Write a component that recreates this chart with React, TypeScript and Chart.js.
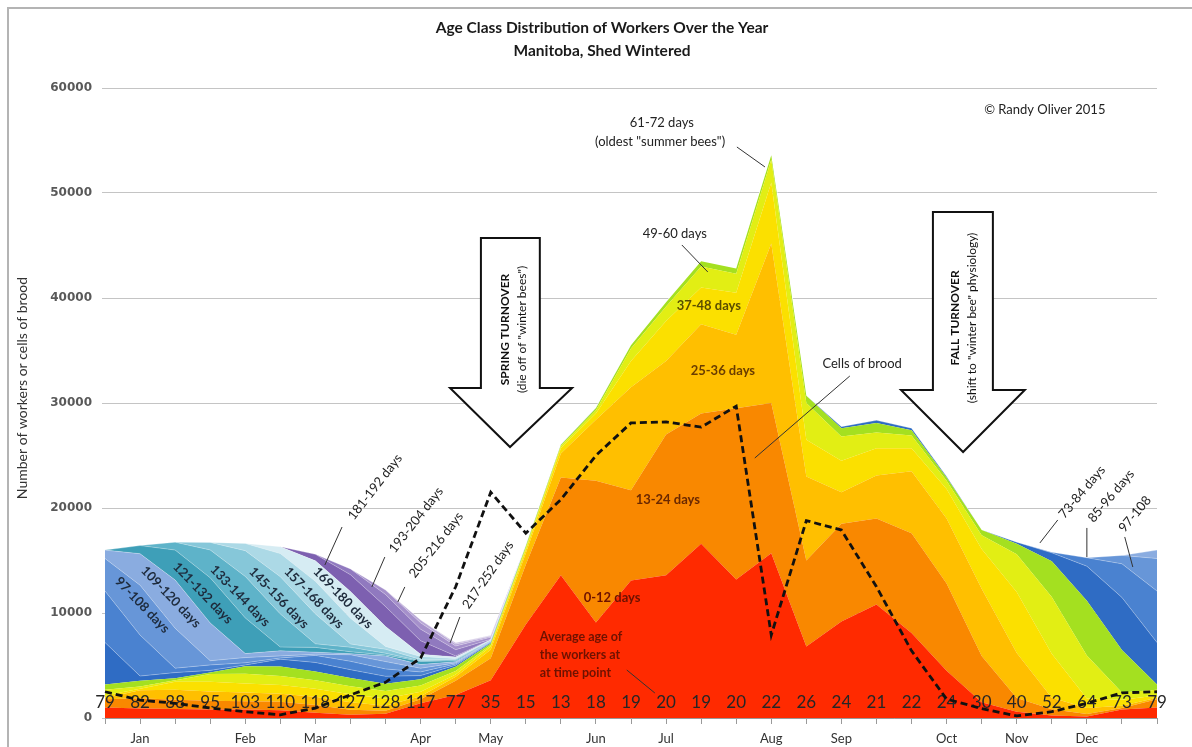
import React, { useEffect, useRef } from "react";
import { Chart, registerables } from "chart.js";

Chart.register(...registerables);

// ---------- categories (one point every 12 days) ----------
const dayOfYear = ["0","12","24","36","48","60","72","84","96","108","120","132","144","156","168","180","192","204","216","228","240","252","264","276","288","300","312","324","336","348","360"];
const monthTicks = ["","Jan","","","Feb","","Mar","","","Apr","","May","","","Jun","","Jul","","","Aug","","Sep","","","Oct","","Nov","","Dec","",""];

// ---------- average age of the workers at each time point ----------
const avgAge = [79,82,88,95,103,110,118,127,128,117,77,35,15,13,18,19,20,19,20,22,26,24,21,22,24,30,40,52,64,73,79];

// ---------- cells of brood (dashed line) ----------
const broodCells = [2500,1700,1400,950,600,300,950,2200,3400,5700,12500,21500,17600,20800,25000,28100,28200,27700,29700,7900,18800,17900,12500,6400,1800,900,200,600,1400,2400,2500];

// ---------- number of workers per age class ----------
const days0to12   = [1000,900,850,800,800,750,500,300,400,1400,2200,3600,8900,13600,9100,13100,13600,16600,13200,15700,6800,9200,10800,8100,4500,1500,600,250,150,800,1000];
const days13to24  = [780,980,890,840,790,790,740,490,290,390,1350,2100,5700,9300,13500,8600,13400,12400,16300,14300,8200,9300,8200,9500,8300,4400,1300,580,240,145,780];
const days25to36  = [140,770,960,880,830,780,780,720,470,270,370,800,1100,2300,5800,9800,7000,8500,7000,15200,8000,3000,4100,5900,6200,6400,4300,1100,570,230,140];
const days37to48  = [220,140,750,940,870,820,770,760,690,430,230,300,300,500,600,2500,3800,3500,4000,5800,3500,3000,2600,2200,2800,3800,5800,4200,900,560,220];
const days49to60  = [550,215,135,740,920,860,800,750,720,600,330,150,200,200,300,1200,1400,2000,1800,2200,3500,2300,1500,1200,800,1300,3600,5400,4100,700,550];
const days61to72  = [500,540,210,130,720,900,840,780,700,600,400,150,150,100,200,300,400,500,500,400,700,800,900,500,300,500,1000,3400,5200,4050,500];
const days73to84  = [4000,450,530,205,125,700,860,800,700,350,150,80,30,20,30,0,0,0,0,0,0,150,250,200,100,0,150,800,3300,5000,4000];
const days85to96  = [4900,3900,420,520,200,120,670,800,700,350,120,60,0,0,0,0,0,0,0,0,0,0,0,0,0,0,0,50,800,3200,4900];
const days97to108 = [3100,4750,3800,400,500,195,115,620,700,350,100,50,0,0,0,0,0,0,0,0,0,0,0,0,0,0,0,0,0,800,3100];
const days109to120 = [800,3000,4600,3600,380,480,190,110,540,350,100,40,0,0,0,0,0,0,0,0,0,0,0,0,0,0,0,0,0,0,800];
const days121to132 = [0,780,2850,4300,3400,360,460,180,95,300,100,30,0,0,0,0,0,0,0,0,0,0,0,0,0,0,0,0,0,0,0];
const days133to144 = [0,0,750,2650,3950,3150,340,430,160,70,100,30,0,0,0,0,0,0,0,0,0,0,0,0,0,0,0,0,0,0,0];
const days145to156 = [0,0,0,720,2450,3550,2850,310,380,120,40,20,0,0,0,0,0,0,0,0,0,0,0,0,0,0,0,0,0,0,0];
const days157to168 = [0,0,0,0,690,2200,3100,2450,270,280,70,10,0,0,0,0,0,0,0,0,0,0,0,0,0,0,0,0,0,0,0];
const days169to180 = [0,0,0,0,0,660,1950,2550,1900,200,150,10,0,0,0,0,0,0,0,0,0,0,0,0,0,0,0,0,0,0,0];
const days181to192 = [0,0,0,0,0,0,620,1600,1900,1300,100,30,0,0,0,0,0,0,0,0,0,0,0,0,0,0,0,0,0,0,0];
const days193to204 = [0,0,0,0,0,0,0,550,1150,1100,600,30,0,0,0,0,0,0,0,0,0,0,0,0,0,0,0,0,0,0,0];
const days205to216 = [0,0,0,0,0,0,0,0,420,600,350,200,0,0,0,0,0,0,0,0,0,0,0,0,0,0,0,0,0,0,0];
const days217to228 = [0,0,0,0,0,0,0,0,0,280,180,100,50,0,0,0,0,0,0,0,0,0,0,0,0,0,0,0,0,0,0];
const days229to240 = [0,0,0,0,0,0,0,0,0,0,120,40,0,0,0,0,0,0,0,0,0,0,0,0,0,0,0,0,0,0,0];
const days241to252 = [0,0,0,0,0,0,0,0,0,0,0,40,0,0,0,0,0,0,0,0,0,0,0,0,0,0,0,0,0,0,0];

const ageSeries = [days0to12, days13to24, days25to36, days37to48, days49to60, days61to72, days73to84, days85to96, days97to108, days109to120, days121to132, days133to144, days145to156, days157to168, days169to180, days181to192, days193to204, days205to216, days217to228, days229to240, days241to252];
const ageNames = ["0-12 days","13-24 days","25-36 days","37-48 days","49-60 days","61-72 days","73-84 days","85-96 days","97-108 days","109-120 days","121-132 days","133-144 days","145-156 days","157-168 days","169-180 days","181-192 days","193-204 days","205-216 days","217-228 days","229-240 days","241-252 days"];

// ---------- styles ----------
const ageColors = ["#ff2a00","#f98800","#ffbf00","#fbe000","#e2ee14","#a4e020","#2f6cc4","#4a82d0","#6796d8","#8aace0","#3e9fb8","#5eb3c9","#86c7d9","#acd9e6","#d6ecf3","#7d60b0","#9079bf","#a590cb","#b8a7d6","#c7bade","#d6cde8"];
const FONT = "Lato, 'DejaVu Sans', sans-serif";

type Lbl = { t: string; i: number; v: number; a: number; f: string; c: string };
const areaLabels: Lbl[] = [
  { t: "97-108 days", i: 1.06, v: 10760, a: 46, f: "bold 13px", c: "#1e2b3c" },
  { t: "109-120 days", i: 1.88, v: 11520, a: 46, f: "bold 13px", c: "#1e2b3c" },
  { t: "121-132 days", i: 2.79, v: 11900, a: 46, f: "bold 13px", c: "#1e2b3c" },
  { t: "133-144 days", i: 3.85, v: 11620, a: 46, f: "bold 13px", c: "#1e2b3c" },
  { t: "145-156 days", i: 4.96, v: 11430, a: 46, f: "bold 13px", c: "#1e2b3c" },
  { t: "157-168 days", i: 5.96, v: 11430, a: 46, f: "bold 13px", c: "#1e2b3c" },
  { t: "169-180 days", i: 6.79, v: 11430, a: 46, f: "bold 13px", c: "#1e2b3c" },
  { t: "181-192 days", i: 7.7, v: 22000, a: -52, f: "13px", c: "#222" },
  { t: "193-204 days", i: 8.87, v: 18860, a: -52, f: "13px", c: "#222" },
  { t: "205-216 days", i: 9.44, v: 16480, a: -52, f: "13px", c: "#222" },
  { t: "217-252 days", i: 10.92, v: 13620, a: -55, f: "13px", c: "#222" },
  { t: "73-84 days", i: 27.86, v: 21520, a: -50, f: "13px", c: "#222" },
  { t: "85-96 days", i: 28.69, v: 21140, a: -50, f: "13px", c: "#222" },
  { t: "97-108", i: 29.37, v: 19430, a: -50, f: "13px", c: "#222" },
  { t: "61-72 days", i: 15.88, v: 56670, a: 0, f: "13px", c: "#222" },
  { t: "(oldest \"summer bees\")", i: 15.83, v: 54860, a: 0, f: "13px", c: "#222" },
  { t: "49-60 days", i: 16.25, v: 46100, a: 0, f: "13px", c: "#222" },
  { t: "37-48 days", i: 17.22, v: 39240, a: 0, f: "bold 13px", c: "#5a4d00" },
  { t: "25-36 days", i: 17.62, v: 33050, a: 0, f: "bold 13px", c: "#6a3d00" },
  { t: "13-24 days", i: 16.05, v: 20760, a: 0, f: "bold 13px", c: "#6a2800" },
  { t: "0-12 days", i: 14.46, v: 11430, a: 0, f: "bold 13px", c: "#6e1200" },
  { t: "Cells of brood", i: 21.59, v: 33710, a: 0, f: "13px", c: "#222" },
  { t: "© Randy Oliver 2015", i: 26.8, v: 57900, a: 0, f: "13px", c: "#222" },
];
const pointerLines: number[][] = [
  [6.76, 18190, 6.27, 14570], [7.98, 15330, 7.61, 12480], [8.55, 12480, 8.35, 11050], [10.12, 9620, 9.84, 7140],
  [27.17, 18860, 26.66, 16670], [28.0, 18100, 28.0, 15330], [29.08, 17240, 29.31, 14380],
  [18.02, 54380, 18.82, 52480], [16.45, 45050, 17.19, 42480], [21.24, 32570, 18.53, 24760], [14.88, 4570, 15.68, 2380],
];
const avgAgeNote = ["Average age of", "the workers at", "at time point"];
type Arrow = { l: number; r: number; top: number; sb: number; hl: number; hr: number; ti: number; tv: number; t1: string; t2: string; i1: number; i2: number; tvv: number };
const arrows: Arrow[] = [
  { l: 10.72, r: 12.4, top: 45710, sb: 31430, hl: 9.84, hr: 13.32, ti: 11.55, tv: 25810, t1: "SPRING TURNOVER", t2: "(die off of \"winter bees\")", i1: 11.41, i2: 11.89, tvv: 37000 },
  { l: 23.61, r: 25.32, top: 48190, sb: 31240, hl: 22.7, hr: 26.23, ti: 24.47, tv: 25330, t1: "FALL TURNOVER", t2: "(shift to \"winter bee\" physiology)", i1: 24.24, i2: 24.72, tvv: 38100 },
];

const decor = {
  id: "decor",
  beforeDraw(chart: any) {
    const ctx = chart.ctx;
    ctx.save();
    ctx.fillStyle = "#fff";
    ctx.fillRect(0, 0, chart.width, chart.height);
    ctx.restore();
  },
  afterDatasetDraw(chart: any, args: any) {
    if (args.index !== 0) return;
    const ctx = chart.ctx;
    const xs = chart.scales.x, ys = chart.scales.y;
    ctx.save();
    ctx.font = `17px ${FONT}`;
    ctx.fillStyle = "#262626";
    ctx.textAlign = "center";
    ctx.textBaseline = "middle";
    avgAge.forEach((a, i) => ctx.fillText(String(a), xs.getPixelForValue(i), ys.getPixelForValue(0) - 15));
    ctx.restore();
  },
  afterDraw(chart: any) {
    const ctx = chart.ctx;
    const xs = chart.scales.x, ys = chart.scales.y;
    const X = (i: number) => xs.getPixelForValue(i);
    const Y = (v: number) => ys.getPixelForValue(v);
    ctx.save();
    // frame
    ctx.strokeStyle = "#b4b4b4";
    ctx.lineWidth = 2;
    ctx.beginPath();
    ctx.moveTo(8, chart.height);
    ctx.lineTo(8, 8);
    ctx.lineTo(chart.width, 8);
    ctx.stroke();
    // title
    ctx.fillStyle = "#1a1a1a";
    ctx.textAlign = "center";
    ctx.textBaseline = "middle";
    ctx.font = `bold 15.5px ${FONT}`;
    ctx.fillText("Age Class Distribution of Workers Over the Year", 602, 28);
    ctx.fillText("Manitoba, Shed Wintered", 602, 51);
    // y title
    ctx.save();
    ctx.translate(22, 388);
    ctx.rotate(-Math.PI / 2);
    ctx.font = `14px ${FONT}`;
    ctx.fillStyle = "#333";
    ctx.fillText("Number of workers or cells of brood", 0, 0);
    ctx.restore();
    // arrows
    arrows.forEach((a) => {
      ctx.beginPath();
      ctx.moveTo(X(a.l), Y(a.top));
      ctx.lineTo(X(a.r), Y(a.top));
      ctx.lineTo(X(a.r), Y(a.sb));
      ctx.lineTo(X(a.hr), Y(a.sb));
      ctx.lineTo(X(a.ti), Y(a.tv));
      ctx.lineTo(X(a.hl), Y(a.sb));
      ctx.lineTo(X(a.l), Y(a.sb));
      ctx.closePath();
      ctx.fillStyle = "#fff";
      ctx.fill();
      ctx.strokeStyle = "#111";
      ctx.lineWidth = 2;
      ctx.lineJoin = "miter";
      ctx.stroke();
      ctx.fillStyle = "#111";
      ctx.save();
      ctx.translate(X(a.i1), Y(a.tvv));
      ctx.rotate(-Math.PI / 2);
      ctx.font = `bold 12px ${FONT}`;
      ctx.fillText(a.t1, 0, 0);
      ctx.restore();
      ctx.save();
      ctx.translate(X(a.i2), Y(a.tvv));
      ctx.rotate(-Math.PI / 2);
      ctx.font = `12px ${FONT}`;
      ctx.fillText(a.t2, 0, 0);
      ctx.restore();
    });
    // pointer lines
    ctx.strokeStyle = "#333";
    ctx.lineWidth = 1;
    pointerLines.forEach((p) => {
      ctx.beginPath();
      ctx.moveTo(X(p[0]), Y(p[1]));
      ctx.lineTo(X(p[2]), Y(p[3]));
      ctx.stroke();
    });
    // labels
    areaLabels.forEach((l) => {
      ctx.save();
      ctx.translate(X(l.i), Y(l.v));
      ctx.rotate((l.a * Math.PI) / 180);
      ctx.font = `${l.f} ${FONT}`;
      ctx.fillStyle = l.c;
      ctx.textAlign = "center";
      ctx.textBaseline = "middle";
      ctx.fillText(l.t, 0, 0);
      ctx.restore();
    });
    // average age note
    ctx.font = `bold 12.5px ${FONT}`;
    ctx.fillStyle = "#6e1200";
    ctx.textAlign = "left";
    [7710, 6000, 4290].forEach((v, k) => ctx.fillText(avgAgeNote[k], X(12.4), Y(v)));
    ctx.restore();
  },
};

export default function App() {
  const ref = useRef<HTMLCanvasElement | null>(null);
  useEffect(() => {
    if (!ref.current) return;
    const areaSets: any[] = ageSeries.map((data, i) => ({
      label: ageNames[i],
      data,
      backgroundColor: ageColors[i],
      borderColor: i >= 6 ? "rgba(255,255,255,0.28)" : "rgba(0,0,0,0)",
      borderWidth: i >= 6 ? 1 : 0,
      fill: i === 0 ? "origin" : "-1",
      stack: "ages",
      order: 1,
      pointRadius: 0,
      tension: 0,
    }));
    const broodSet: any = {
      label: "Cells of brood",
      data: broodCells,
      borderColor: "#111",
      borderWidth: 2.8,
      borderDash: [7, 4],
      fill: false,
      stack: "brood",
      order: 0,
      pointRadius: 0,
      tension: 0,
    };
    const chart = new Chart(ref.current, {
      type: "line",
      data: { labels: dayOfYear, datasets: [...areaSets, broodSet] },
      options: {
        responsive: false,
        animation: false,
        devicePixelRatio: 1,
        layout: { padding: { left: 0, right: 35, top: 88, bottom: 0 } },
        plugins: { legend: { display: false }, title: { display: false }, tooltip: { enabled: false } },
        elements: { point: { radius: 0 }, line: { tension: 0 } },
        scales: {
          x: {
            type: "category",
            offset: false,
            grid: { drawOnChartArea: false, drawTicks: true, tickLength: 6, color: "#9a9a9a" },
            border: { display: true, color: "#9a9a9a" },
            ticks: {
              autoSkip: false,
              maxRotation: 0,
              padding: 7,
              font: { family: FONT, size: 13 },
              color: "#333",
              callback: (_v: any, i: number) => monthTicks[i],
            },
            afterFit: (s: any) => { s.height = 29; },
          },
          y: {
            stacked: true,
            min: 0,
            max: 60000,
            ticks: {
              stepSize: 10000,
              padding: 10,
              font: { family: "'DejaVu Sans', sans-serif", size: 12, weight: "bold" },
              color: "#595959",
              callback: (v: any) => String(v),
            },
            grid: { color: "#c4c4c4", tickLength: 3, drawTicks: true },
            border: { display: false },
            afterFit: (s: any) => { s.width = 105; },
          },
        },
      } as any,
      plugins: [decor],
    });
    return () => chart.destroy();
  }, []);
  return (
    <div style={{ position: "fixed", left: 0, top: 0, width: 1192, height: 747, background: "#fff" }}>
      <canvas ref={ref} width={1192} height={747} style={{ width: 1192, height: 747, display: "block" }} />
    </div>
  );
}
